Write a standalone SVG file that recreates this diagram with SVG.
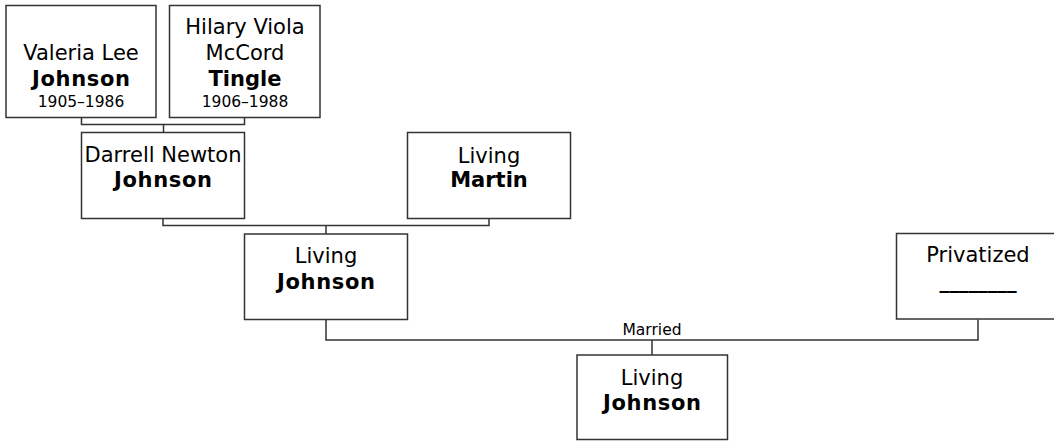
<svg xmlns="http://www.w3.org/2000/svg" width="1054" height="441" viewBox="0 0 1054 441">
<style>
.bg{fill:#ffffff}
.box{fill:#ffffff;stroke:#333333;stroke-width:1.5}
.conn{fill:none;stroke:#333333;stroke-width:1.5}
text{font-family:"DejaVu Sans",Verdana,sans-serif;fill:#000000;text-anchor:middle}
.n{font-size:21px}
.b{font-size:21px;font-weight:bold}
.d{font-size:15.5px}
.lbl{font-size:15.5px}
</style>
<rect class="bg" x="0" y="0" width="1054" height="441"/>
<g id="connectors">
<path class="conn" d="M81.5 117.5 V124.5 H244.5 V117.5 M163.5 124.5 V132.5"/>
<path class="conn" d="M163 218.5 V225.5 H489 V218.5 M326 225.5 V234"/>
<path class="conn" d="M326 319.5 V340 H978 V319.5 M652 340 V355"/>
<text class="lbl" x="652" y="335">Married</text>
</g>
<g id="valeria">
<rect class="box" x="6" y="5.5" width="150" height="112"/>
<text class="n" x="81" y="60">Valeria Lee</text>
<text class="b" x="81" y="85.7" textLength="98">Johnson</text>
<text class="d" x="81" y="106.5">1905–1986</text>
</g>
<g id="hilary">
<rect class="box" x="169.5" y="5.5" width="150.5" height="112"/>
<text class="n" x="245" y="34.3">Hilary Viola</text>
<text class="n" x="245" y="60">McCord</text>
<text class="b" x="245" y="85.5">Tingle</text>
<text class="d" x="245" y="106.5">1906–1988</text>
</g>
<g id="darrell">
<rect class="box" x="81.5" y="132.5" width="163" height="86"/>
<text class="n" x="163" y="161.7">Darrell Newton</text>
<text class="b" x="163" y="186.7" textLength="98">Johnson</text>
</g>
<g id="martin">
<rect class="box" x="407.5" y="132.5" width="163" height="86"/>
<text class="n" x="489" y="163.3">Living</text>
<text class="b" x="489" y="186.7">Martin</text>
</g>
<g id="living-johnson">
<rect class="box" x="244.5" y="234" width="163" height="85.5"/>
<text class="n" x="326" y="263.3">Living</text>
<text class="b" x="326" y="289.3" textLength="98">Johnson</text>
</g>
<g id="privatized">
<rect class="box" x="896.5" y="233.5" width="163" height="85.5"/>
<text class="n" x="978" y="261.7">Privatized</text>
<text class="b" x="978" y="287.5" textLength="77" lengthAdjust="spacingAndGlyphs">________</text>
</g>
<g id="child">
<rect class="box" x="577" y="355" width="150.5" height="84.5"/>
<text class="n" x="652" y="385">Living</text>
<text class="b" x="652" y="410" textLength="98">Johnson</text>
</g>
</svg>
